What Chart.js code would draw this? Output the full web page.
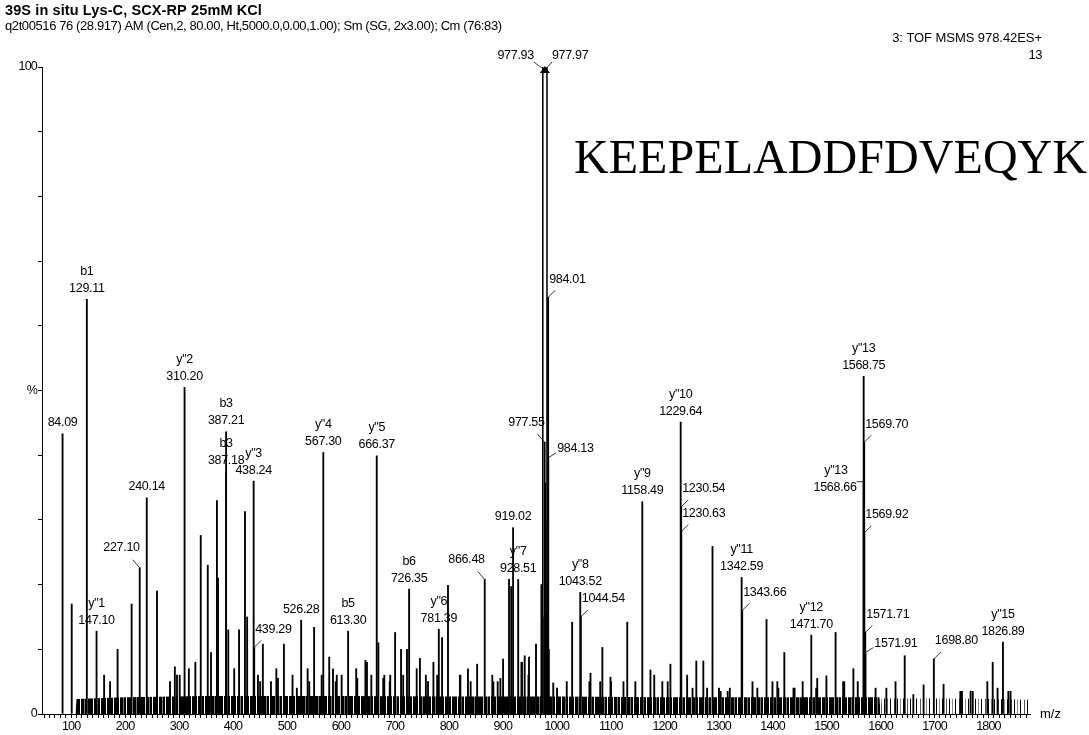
<!DOCTYPE html>
<html>
<head>
<meta charset="utf-8">
<script src="https://cdn.jsdelivr.net/npm/chart.js@4.4.1/dist/chart.umd.min.js"></script>
<style>
html,body{margin:0;padding:0;background:#fff;}
canvas{display:block;}
</style>
</head>
<body>
<canvas id="ms" width="1089" height="735"></canvas>
<script>

/* PEAKS (m/z , relative intensity %) */

const peakMz = [
84.09,101.07,129.11,147.10,161.1,172.1,186.1,212.1,227.10,240.14,
259.1,283.2,292.2,296.2,301.2,310.20,318.2,330.2,340.2,353.2,
359.2,370.2,372.2,387.18,387.21,391.2,402.2,411.2,422.2,426.2,
438.24,439.29,446.2,450.3,455.3,470.3,480.3,483.3,494.3,510.3,
518.3,526.28,538.3,541.3,550.3,564.3,567.30,578.3,585.3,590.3,
592.3,601.3,613.30,628.3,630.3,645.3,648.3,656.3,666.37,669.4,
678.4,680.4,690.4,691.4,700.4,711.4,715.4,722.4,726.35,740.4,
746.4,757.4,761.4,771.4,778.4,781.39,787.4,798.4,820.4,821.4,
835.4,840.4,852.4,866.48,880.5,882.5,890.5,895.5,900.5,911.5,
915.5,919.02,928.51,934.5,935.5,940.5,947.5,948.5,961.5,971.5,
976.8,977.55,978.6,979.2,980.1,983.4,984.01,984.13,985.2,993.5,
1000.5,1018.5,1028.5,1043.52,1044.54,1060.5,1062.5,1080.5,1084.5,1099.5,
1100.5,1123.6,1130.6,1145.6,1158.49,1173.6,1180.6,1195.6,1205.6,1210.6,
1229.64,1230.54,1230.63,1241.6,1251.6,1258.6,1271.6,1278.6,1288.6,1300.6,
1303.7,1316.7,1320.7,1342.59,1343.66,1362.7,1371.7,1388.7,1399.7,1408.7,
1410.7,1421.7,1438.7,1440.7,1455.7,1471.70,1480.7,1482.7,1499.7,1516.7,
1530.7,1532.8,1549.7,1557.8,1568.66,1568.75,1569.70,1569.92,1571.71,1571.91,
1590.8,1610.8,1627.8,1644.8,1660.8,1679.8,1698.80,1716.8,1747.9,1750.9,
1766.9,1770.9,1797.9,1807.9,1816.9,1826.89,1836.9,1840.9
];

const peakInt = [
43.3,17.0,64.1,12.8,6.0,5.0,10.0,17.0,22.6,33.4,
19.0,5.0,7.3,6.0,6.0,50.5,7.0,8.0,27.6,23.0,
9.5,33.0,21.0,37.4,43.6,13.0,7.0,13.0,31.3,15.0,
36.0,10.3,6.0,5.0,10.8,5.0,7.0,5.5,10.8,6.0,
4.0,14.5,7.0,5.0,13.4,6.0,40.4,8.8,7.0,5.0,
6.0,6.0,12.8,7.0,5.5,8.3,8.0,6.0,39.9,11.0,
5.5,6.0,5.0,6.0,12.6,10.0,6.0,10.0,19.3,7.0,
8.6,6.0,5.0,8.0,6.0,13.1,11.8,19.9,6.0,6.0,
7.0,5.0,7.7,20.8,6.0,5.0,5.0,5.5,8.5,20.8,
19.7,28.8,20.8,8.0,8.0,9.0,6.0,8.8,10.8,20.0,
15.0,42.0,35.7,29.7,15.7,20.0,64.4,39.6,10.0,4.8,
4.0,5.0,14.2,18.8,15.0,5.0,6.3,5.0,10.3,5.7,
5.0,5.0,14.2,5.0,32.8,6.8,6.0,5.0,5.0,7.7,
45.1,32.0,28.2,6.0,4.0,8.2,8.2,4.0,25.9,4.0,
3.5,3.5,4.0,21.1,16.0,5.0,4.0,14.6,5.0,5.0,
4.0,9.5,4.0,4.0,5.0,12.2,4.0,5.5,5.9,12.6,
5.0,5.0,7.0,5.0,35.9,52.2,42.0,28.0,12.6,9.5,
4.0,4.0,5.0,9.0,3.0,4.5,8.5,4.6,3.5,3.5,
3.5,3.5,5.0,8.0,4.0,11.1,3.5,3.5
];

/* BASE PEAK (double trace, 100 %) */

const baseMz = [977.93,977.97];
const baseInt = [100,100];

/* NOISE FLOOR ENVELOPE */

const floorMz  = [108,110,200,350,600,800,1000,1200,1400,1598,1600];
const floorInt = [0,2.3,2.6,2.8,2.8,2.7,2.7,2.6,2.6,2.6,0];
const tailMz   = [1600,1602,1700,1800,1875,1877];
const tailInt  = [0,2.4,2.4,2.3,2.2,0];

/* ANNOTATED PEAKS */

const labelMz = [
84.09,129.11,147.10,227.10,240.14,310.20,387.21,387.18,438.24,439.29,
526.28,567.30,613.30,666.37,726.35,781.39,866.48,919.02,928.51,977.55,
984.01,984.13,1043.52,1044.54,1158.49,1229.64,1230.54,1230.63,1342.59,1343.66,
1471.70,1568.75,1569.70,1568.66,1569.92,1571.71,1571.91,1698.80,1826.89
];
const labelIon = [
"","b1",'y"1',"","",'y"2',"b3","b3",'y"3',"",
"",'y"4',"b5",'y"5',"b6",'y"6',"","",'y"7',"",
"","",'y"8',"",'y"9','y"10',"","",'y"11',"",
'y"12','y"13',"",'y"13',"","","","",'y"15'
];

/* label placement: c = centred above, r = leader up-right, rl = short leader right,
   l = leader up-left, lh = horizontal leader left */
const labelPlace = [
"c","c","c","l","c","c","c","c","c","r",
"c","c","c","c","c","c","l","c","c","l",
"r","rl","c","r","c","c","r","r","c","r",
"c","c","r","lh","r","r","rl","r","c"
];

const FONT = "'Liberation Sans', Arial, sans-serif";

/* STRIPED FILL FOR THE DENSE NOISE FLOOR */

function stripes(cols){
const c=document.createElement("canvas");
c.width=cols.length;
c.height=4;
const g=c.getContext("2d");
cols.forEach((v,i)=>{
g.fillStyle=v;
g.fillRect(i,0,1,4);
});
return document.getElementById("ms").getContext("2d").createPattern(c,"repeat");
}

const densePat = stripes(["#000","#000","#fff","#000","#000","#000","#777","#000","#000","#fff","#000","#000","#000"]);
const sparsePat = stripes(["#000","#fff","#fff","#888","#fff","#fff","#000","#fff","#fff","#fff","#555","#fff","#fff"]);

const xy = (xs,ys)=>xs.map((x,i)=>({x:x,y:ys[i]}));

/* TEXT HELPERS */

function fitText(ctx,txt,x,y,w,align){
ctx.letterSpacing="0px";
const m=ctx.measureText(txt).width;
const sp=(w-m)/Math.max(1,txt.length-1);
ctx.letterSpacing=sp.toFixed(2)+"px";
ctx.textAlign=align||"left";
ctx.fillText(txt,x,y);
ctx.letterSpacing="0px";
}

const annot = {
id:"annot",
beforeDraw(chart){
chart.ctx.letterSpacing="-0.8px";
},
afterDatasetsDraw(chart){
const ctx=chart.ctx;
const xs=chart.scales.x, ys=chart.scales.y;
ctx.save();
ctx.letterSpacing="-0.3px";
ctx.fillStyle="#000";
ctx.strokeStyle="#000";
ctx.lineWidth=0.8;
ctx.font="12.5px "+FONT;
ctx.textBaseline="middle";

labelMz.forEach((mz,i)=>{
const k=peakMz.indexOf(mz);
const px=xs.getPixelForValue(mz);
const top=ys.getPixelForValue(peakInt[k]);
const txt=mz.toFixed(2);
const ion=labelIon[i];
const p=labelPlace[i];
if(p==="c"){
ctx.textAlign="center";
ctx.fillText(txt,px,top-11);
if(ion) ctx.fillText(ion,px,top-28);
}else if(p==="r"){
ctx.beginPath();ctx.moveTo(px,top);ctx.lineTo(px+7,top-7);ctx.stroke();
ctx.textAlign="left";
ctx.fillText(txt,px+1,top-18);
}else if(p==="rl"){
ctx.beginPath();ctx.moveTo(px,top);ctx.lineTo(px+8,top-5);ctx.stroke();
ctx.textAlign="left";
ctx.fillText(txt,px+9,top-9);
}else if(p==="l"){
ctx.beginPath();ctx.moveTo(px,top);ctx.lineTo(px-7,top-8);ctx.stroke();
ctx.textAlign="right";
ctx.fillText(txt,px,top-20);
}else if(p==="lh"){
ctx.beginPath();ctx.moveTo(px,top);ctx.lineTo(px-7,top);ctx.stroke();
ctx.textAlign="right";
ctx.fillText(txt,px-7,top+6);
if(ion) ctx.fillText(ion,px-16,top-11);
}
});

/* base peak marker and its two labels */
const bx=xs.getPixelForValue((baseMz[0]+baseMz[1])/2);
const by=ys.getPixelForValue(baseInt[0]);
ctx.beginPath();
ctx.moveTo(bx,by-1);ctx.lineTo(bx+5,by+6);ctx.lineTo(bx-5,by+6);ctx.closePath();
ctx.fill();
ctx.beginPath();
ctx.moveTo(bx-3,by+1);ctx.lineTo(bx-11,by-5);
ctx.moveTo(bx+2,by+1);ctx.lineTo(bx+7,by-5);
ctx.stroke();
ctx.textAlign="right";
ctx.fillText(baseMz[0].toFixed(2),bx-11,by-11);
ctx.textAlign="left";
ctx.fillText(baseMz[1].toFixed(2),bx+7,by-11);
ctx.restore();
},
afterDraw(chart){
const ctx=chart.ctx;
ctx.save();
ctx.fillStyle="#000";
ctx.textBaseline="middle";
ctx.font="bold 14.5px "+FONT;
fitText(ctx,"39S in situ Lys-C, SCX-RP 25mM KCl",5,11,257);
ctx.font="13px "+FONT;
fitText(ctx,"q2t00516 76 (28.917) AM (Cen,2, 80.00, Ht,5000.0,0.00,1.00); Sm (SG, 2x3.00); Cm (76:83)",5,26,497);
fitText(ctx,"3: TOF MSMS 978.42ES+",1042,38,150,"right");
fitText(ctx,"13",1042,55,14,"right");
fitText(ctx,"m/z",1040,714,21);
ctx.font="48px 'Liberation Serif', 'Times New Roman', serif";
ctx.textBaseline="alphabetic";
fitText(ctx,"KEEPELADDFDVEQYK",574,173,513);
ctx.restore();
}
};

new Chart(document.getElementById("ms"),{
type:"bar",
data:{
datasets:[
{
type:"line",
data:xy(floorMz,floorInt),
fill:"origin",
backgroundColor:densePat,
borderWidth:0,
pointRadius:0,
tension:0,
order:4
},
{
type:"line",
data:xy(tailMz,tailInt),
fill:"origin",
backgroundColor:sparsePat,
borderWidth:0,
pointRadius:0,
tension:0,
order:3
},
{
data:xy(baseMz,baseInt),
backgroundColor:"#fff",
borderColor:"#000",
borderWidth:{left:1.5,right:1.5,top:0,bottom:0},
borderSkipped:false,
barThickness:5,
grouped:false,
order:2
},
{
data:xy(peakMz,peakInt),
backgroundColor:"#000",
borderWidth:0,
barThickness:1.2,
grouped:false,
order:1
}
]
},
options:{
responsive:false,
animation:false,
devicePixelRatio:1,
layout:{padding:{top:67,right:59,left:0,bottom:0}},
plugins:{
legend:{display:false},
tooltip:{enabled:false},
title:{display:false}
},
scales:{
x:{
type:"linear",
min:46,
max:1877,
offset:false,
grid:{drawOnChartArea:false,drawTicks:true,tickLength:4,tickColor:"#000",offset:false},
border:{display:true,color:"#000",width:1},
ticks:{
stepSize:10,
autoSkip:false,
maxRotation:0,
includeBounds:false,
padding:1,
color:"#000",
font:{family:FONT,size:12.5},
callback:v=>(Math.round(v)%100===0?String(Math.round(v)):"")
},
afterFit:s=>{s.height=21;}
},
y:{
min:0,
max:100,
grid:{drawOnChartArea:false,drawTicks:true,tickLength:4,tickColor:"#000"},
border:{display:true,color:"#000",width:1},
ticks:{
stepSize:10,
padding:1,
color:"#000",
font:{family:FONT,size:12.5},
callback:v=>(v===0?"0":v===50?"%":v===100?"100":"")
},
afterFit:s=>{s.width=42;}
}
}
},
plugins:[annot]
});

</script>
</body>
</html>
